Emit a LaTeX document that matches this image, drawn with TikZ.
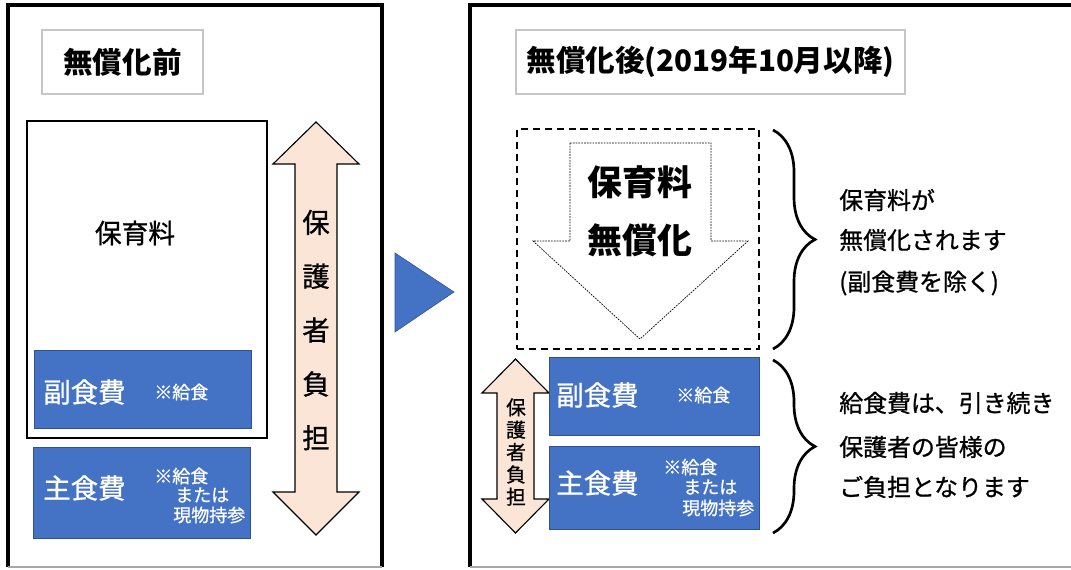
\documentclass[tikz,border=0pt]{standalone}
\usepackage{fontspec}
\setmainfont{Noto Sans CJK JP}
\newfontfamily\medfont[FakeBold=0.9]{Noto Sans CJK JP}
\usepackage{tikz}
\usetikzlibrary{decorations.pathreplacing}
\usepackage{xcolor}
\definecolor{boxblue}{HTML}{4472C4}
\definecolor{boxedge}{HTML}{2F528F}
\definecolor{peach}{HTML}{FBE5D6}
\newcommand{\pxu}{0.025cm}

\begin{document}
\begin{tikzpicture}[x=0.025cm, y=-0.025cm, frame/.style={line width=2.6pt}, title box/.style={draw=gray!45, line width=0.8pt, inner sep=0, font=\fontsize{21pt}{25pt}\selectfont\bfseries}, blue box/.style={draw=boxedge, fill=boxblue, line width=0.6pt, inner sep=0}, big text/.style={inner sep=0, anchor=west, text=white, font=\medfont\fontsize{19.5pt}{23pt}\selectfont}, small text/.style={inner sep=0, anchor=west, text=white, font=\medfont\fontsize{12.8pt}{15pt}\selectfont}, note/.style={inner sep=0, anchor=west, font=\medfont\fontsize{17pt}{20pt}\selectfont}, pay arrow/.style={draw=black, fill=peach, line width=0.8pt}, curly/.style={decorate, decoration={brace, amplitude=1.05cm, aspect=0.5}, line width=1.9pt}]
\useasboundingbox (0,0) rectangle (1071,570);
\draw[frame] (8,567) -- (8,5) -- (382,5) -- (382,567);
\draw[gray!70, line width=0.8pt] (8,567) -- (382,567);
\draw[frame] (470,567) -- (470,5) -- (1071,5);
\draw[gray!70, line width=0.8pt] (470,567) -- (1071,567);

\node[title box, minimum width=161*\pxu, minimum height=64*\pxu] (before) at (122.5,62) {無償化前};
\node[title box, minimum width=389*\pxu, minimum height=64*\pxu] (after) at (710.5,62) {無償化後(2019年10月以降)};

\node[draw, line width=1.4pt, inner sep=0, minimum width=240*\pxu, minimum height=317*\pxu] (fee) at (147,279.5) {};
\node[inner sep=0, font=\medfont\fontsize{19pt}{23pt}\selectfont] (feetext) at (135,233) {保育料};
\node[blue box, minimum width=217*\pxu, minimum height=78*\pxu] (side1) at (142.5,389) {};
\node[big text] (side1a) at (43,392) {副食費};
\node[small text] (side1b) at (154,392) {※給食};
\node[blue box, minimum width=217*\pxu, minimum height=91*\pxu] (main1) at (141.5,492.5) {};
\node[big text] (main1a) at (43,488) {主食費};
\node[small text] (main1b) at (154,476) {※給食};
\node[small text] (main1c) at (175,495) {または};
\node[small text] (main1d) at (173,515) {現物持参};

\draw[pay arrow] (316,122) -- (359,164) -- (337,164) -- (337,492) -- (359,492) -- (316,535) -- (273,492) -- (295,492) -- (295,164) -- (273,164) -- cycle;
\node[inner sep=0, align=center, font=\medfont\fontsize{19.5pt}{38.3pt}\selectfont] (pay1) at (316,330) {保\\護\\者\\負\\担};

\fill[boxblue, draw=boxedge, line width=0.4pt] (395,253) -- (454,292) -- (395,332) -- cycle;

\node[draw, dash pattern=on 5pt off 3.5pt, line width=1.1pt, inner sep=0, minimum width=242*\pxu, minimum height=220*\pxu] (free) at (638,239) {};
\draw[dash pattern=on 1.2pt off 0.8pt, line width=0.5pt] (570,143) -- (711,143) -- (711,241) -- (748,241) -- (640,339) -- (533,241) -- (570,241) -- cycle;
\node[inner sep=0, font=\fontsize{24.8pt}{30pt}\selectfont\bfseries] (free1) at (640,182) {保育料};
\node[inner sep=0, font=\fontsize{24.8pt}{30pt}\selectfont\bfseries] (free2) at (640,240) {無償化};

\draw[pay arrow] (515.5,359) -- (549,393) -- (534,393) -- (534,499) -- (549,499) -- (515.5,533) -- (482,499) -- (497,499) -- (497,393) -- (482,393) -- cycle;
\node[inner sep=0, align=center, font=\medfont\fontsize{14pt}{15.9pt}\selectfont] (pay2) at (516,452) {保\\護\\者\\負\\担};

\node[blue box, minimum width=210*\pxu, minimum height=78*\pxu] (side2) at (654,396) {};
\node[big text] (side2a) at (556,395) {副食費};
\node[small text] (side2b) at (676,395) {※給食};
\node[blue box, minimum width=210*\pxu, minimum height=83*\pxu] (main2) at (654,487.5) {};
\node[big text] (main2a) at (556,483) {主食費};
\node[small text] (main2b) at (663,467) {※給食};
\node[small text] (main2c) at (683,487) {または};
\node[small text] (main2d) at (682,508) {現物持参};

\coordinate (b1top) at (773,130);
\coordinate (b1bot) at (773,349);
\coordinate (b2top) at (773,360);
\coordinate (b2bot) at (773,533);
\draw[curly] (b1top) -- (b1bot);
\draw[curly] (b2top) -- (b2bot);

\node[note] (n1) at (839,200) {保育料が};
\node[note] (n2) at (839,240) {無償化されます};
\node[note] (n3) at (839,283) {(副食費を除く)};
\node[note] (n4) at (839,403) {給食費は、引き続き};
\node[note] (n5) at (839,447) {保護者の皆様の};
\node[note] (n6) at (839,487) {ご負担となります};
\end{tikzpicture}
\end{document}
